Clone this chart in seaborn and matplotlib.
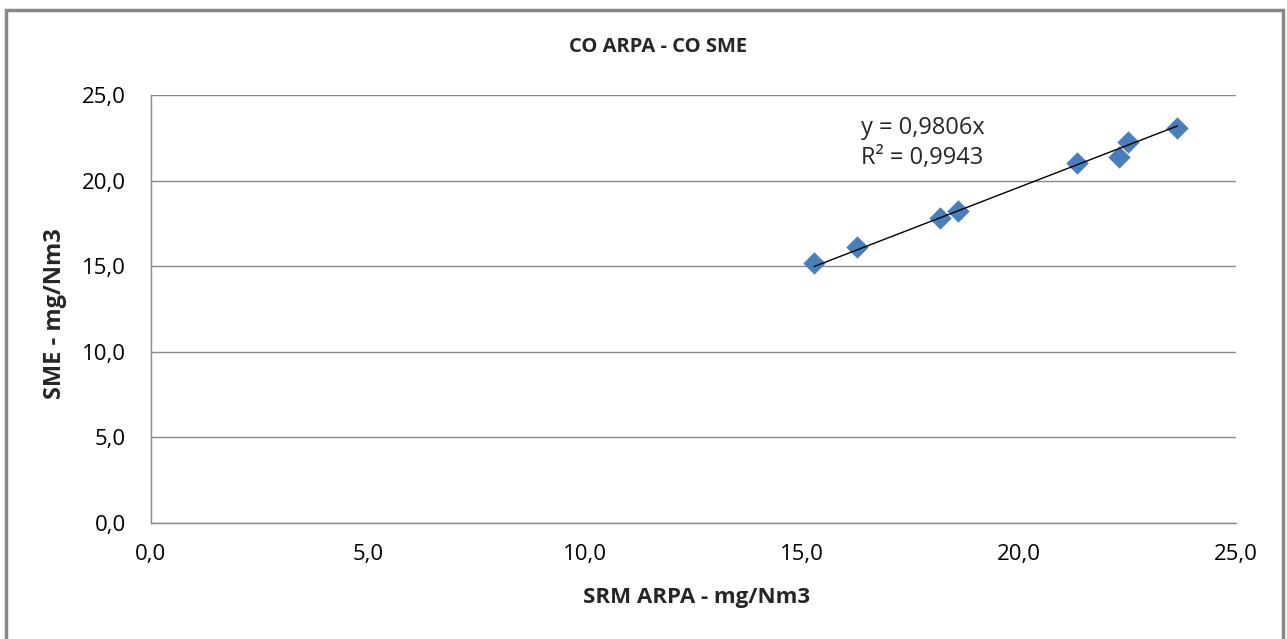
import matplotlib
matplotlib.use("Agg")
import matplotlib.pyplot as plt
import seaborn as sns
import numpy as np
import pandas as pd
from matplotlib.patches import Rectangle
from matplotlib.ticker import FuncFormatter

# Data
srm_arpa = [15.28, 16.26, 18.19, 18.60, 21.34, 22.31, 22.50, 23.65]
sme = [15.17, 16.14, 17.79, 18.24, 21.05, 21.40, 22.27, 23.05]
slope = 0.9806
r2 = 0.9943
x_ticks = [0, 5, 10, 15, 20, 25]
y_ticks = [0, 5, 10, 15, 20, 25]

df = pd.DataFrame({"x": srm_arpa, "y": sme})
trend = pd.DataFrame({"x": [min(srm_arpa), max(srm_arpa)]})
trend["y"] = slope * trend["x"]

sns.set_theme(style="white")
plt.rcParams["font.family"] = ["Open Sans", "DejaVu Sans"]

W, H = 1287, 639
fig = plt.figure(figsize=(W/100, H/100), dpi=100)
ax = fig.add_axes([151/W, 1 - 523/H, (1236-151)/W, (523-95)/H])

sns.scatterplot(data=df, x="x", y="y", ax=ax, marker="D", s=130,
                color="#4a7ebb", edgecolor="#4a7ebb", linewidth=0, zorder=3)
sns.lineplot(data=trend, x="x", y="y", ax=ax, color="black", linewidth=1, zorder=4)

ax.set_xlim(0, 25)
ax.set_ylim(0, 25)
ax.set_xticks(x_ticks)
ax.set_yticks(y_ticks)
fmt = FuncFormatter(lambda v, p: f"{v:.1f}".replace(".", ","))
ax.xaxis.set_major_formatter(fmt)
ax.yaxis.set_major_formatter(fmt)
ax.tick_params(axis="both", length=0, labelsize=16, colors="black")
ax.tick_params(axis="x", pad=15)
ax.tick_params(axis="y", pad=18)

ax.yaxis.grid(True, color="#888888", linewidth=1)
ax.xaxis.grid(False)
for s in ["top", "right"]:
    ax.spines[s].set_visible(False)
for s in ["left", "bottom"]:
    ax.spines[s].set_color("#888888")
    ax.spines[s].set_linewidth(1)

ax.set_xlabel("SRM ARPA - mg/Nm3", fontsize=16, fontweight="bold")
ax.set_ylabel("SME - mg/Nm3", fontsize=17, fontweight="bold")
ax.xaxis.set_label_coords((697-151)/1085, (523-598)/428)
ax.xaxis.label.set_verticalalignment("center")
ax.yaxis.set_label_coords((55-151)/1085, (523-314)/428)
ax.yaxis.label.set_verticalalignment("center")

ax.text(16.35, 23.1, f"y = {slope:.4f}x".replace(".", ","), fontsize=17,
        va="center", ha="left")
ax.text(16.35, 21.3, f"R² = {r2:.4f}".replace(".", ","), fontsize=17,
        va="center", ha="left")

fig.text(658/W, 1 - 47/H, "CO ARPA - CO SME", fontsize=14.5,
         fontweight="bold", ha="center", va="center")

fig.patches.append(Rectangle((6/W, -0.05), (1283-6)/W, 1.05 - 10/H,
                             transform=fig.transFigure, fill=False,
                             edgecolor="#888888", linewidth=2.5))

fig.savefig("out.png", dpi=100)
